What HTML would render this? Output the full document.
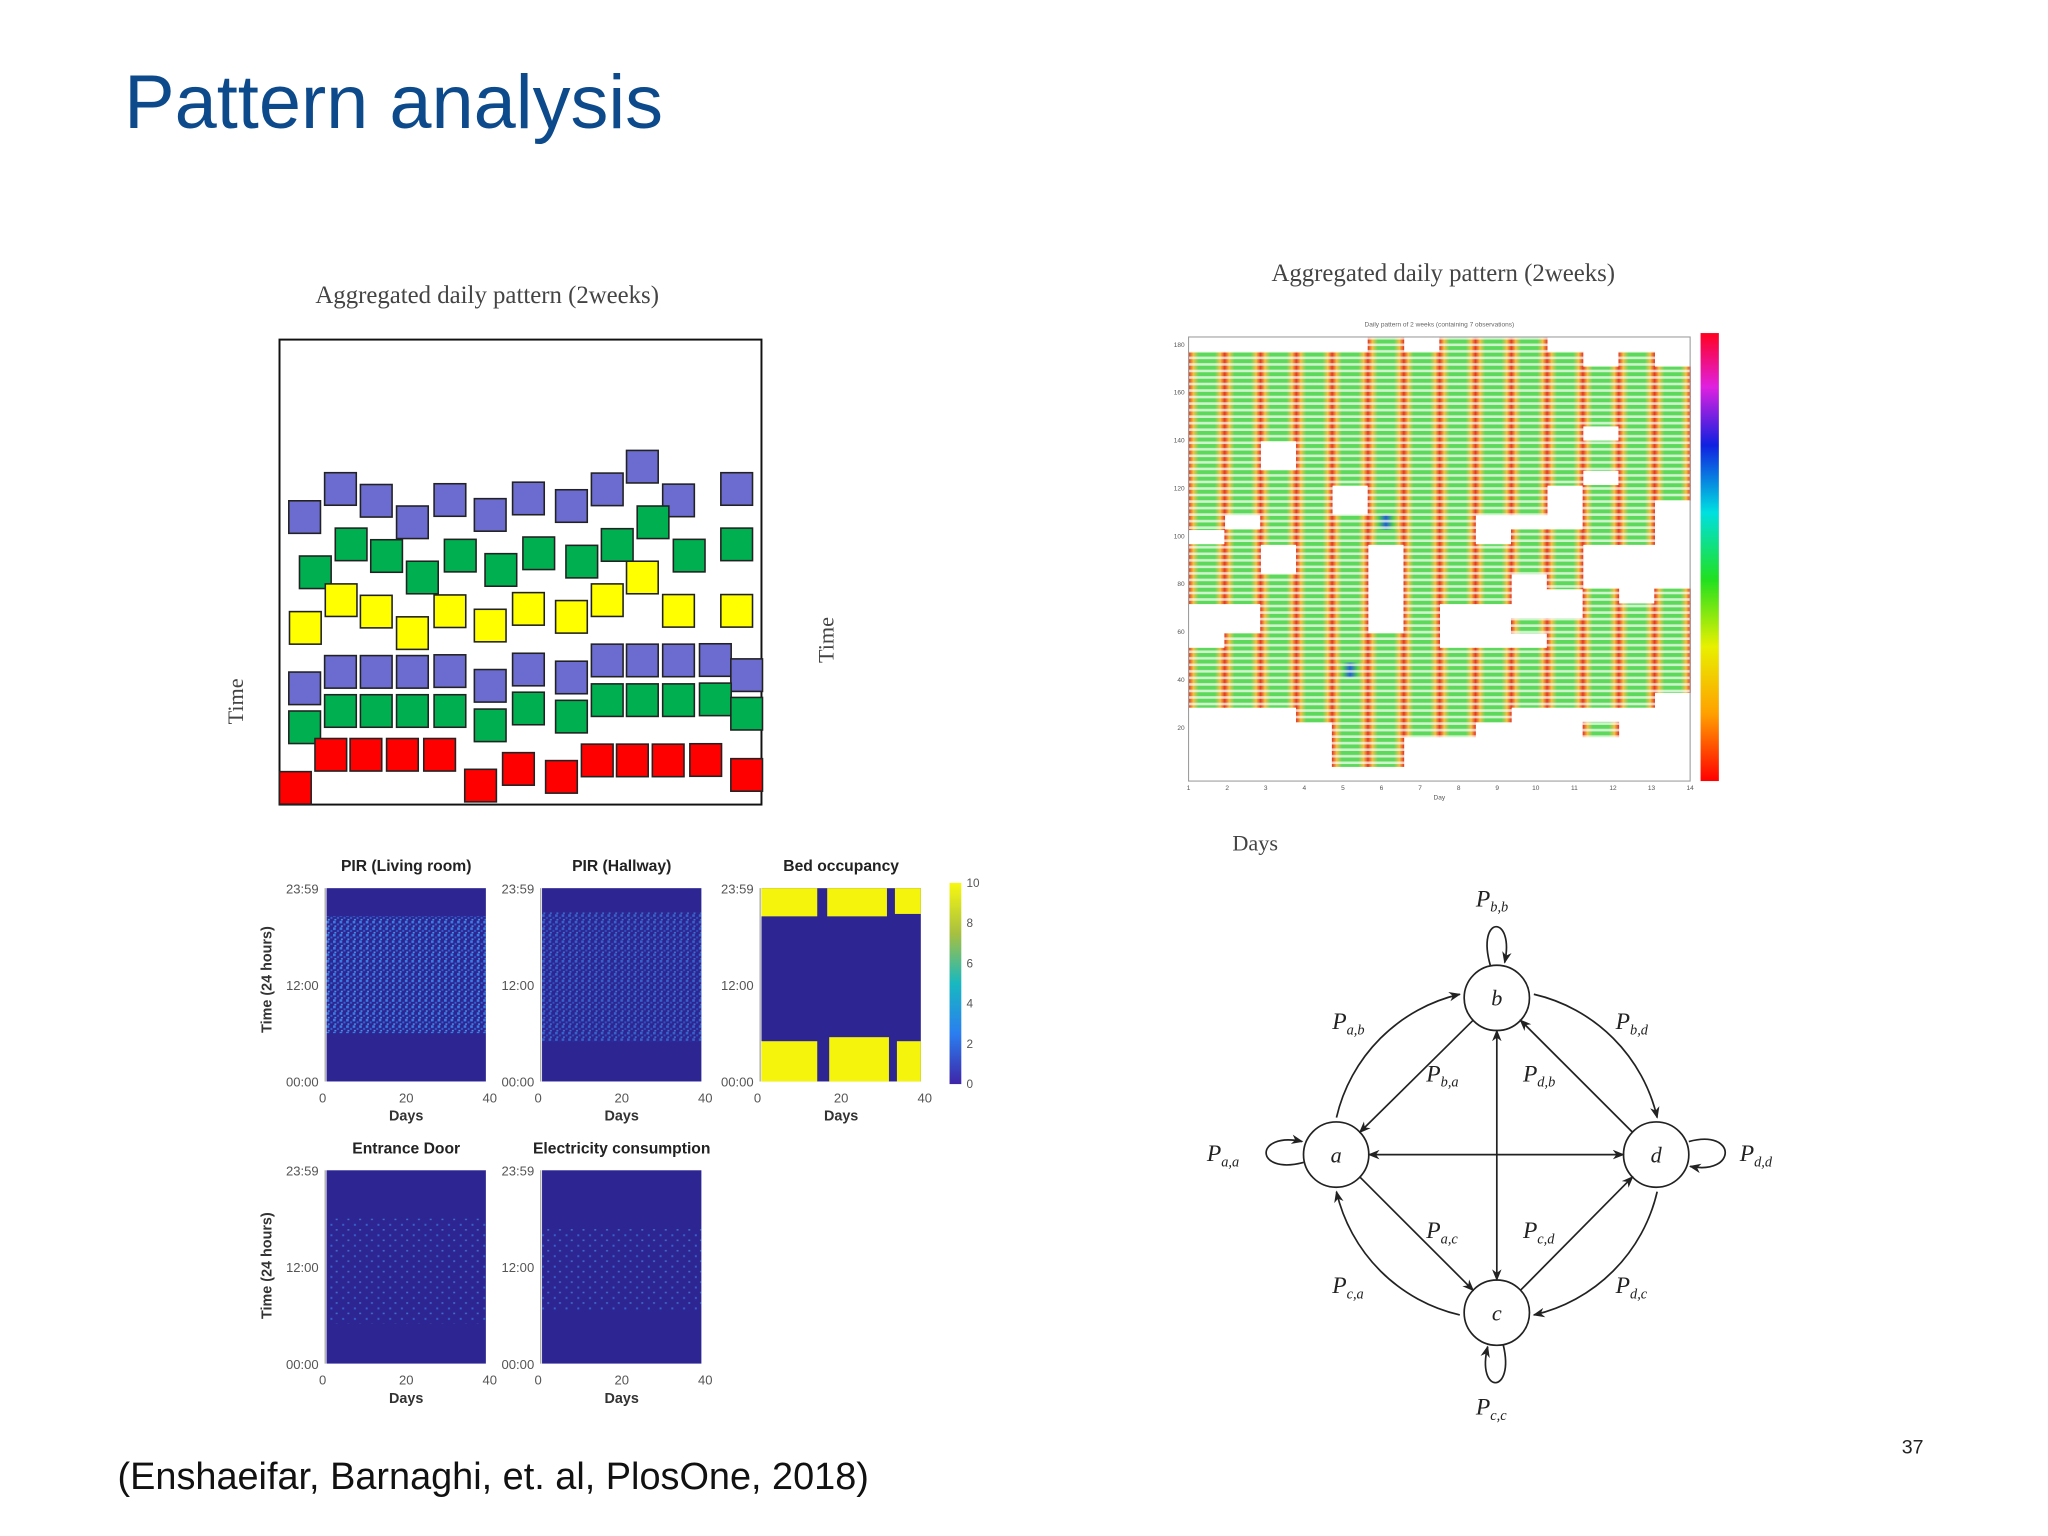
<!DOCTYPE html>
<html><head><meta charset="utf-8"><style>
html,body{margin:0;padding:0;background:#fff;}
svg{display:block;}
.serif{font-family:"Liberation Serif",serif;}
.sans{font-family:"Liberation Sans",sans-serif;}
</style></head><body>
<svg id="slide" width="2048" height="1536" viewBox="0 0 1568 1176" xmlns="http://www.w3.org/2000/svg">
<defs>
  <linearGradient id="dayGrad" x1="0" x2="1" y1="0" y2="0">
    <stop offset="0" stop-color="#e03020"/><stop offset="0.13" stop-color="#f4c040"/>
    <stop offset="0.28" stop-color="#5cd85a"/><stop offset="0.72" stop-color="#5cd85a"/>
    <stop offset="0.87" stop-color="#f4c040"/><stop offset="1" stop-color="#e03020"/>
  </linearGradient>
  <linearGradient id="dayGradBlue" x1="0" x2="1" y1="0" y2="0">
    <stop offset="0" stop-color="#e03020"/><stop offset="0.15" stop-color="#f4c040"/>
    <stop offset="0.3" stop-color="#4cd04a"/><stop offset="0.5" stop-color="#2060d0"/>
    <stop offset="0.7" stop-color="#4cd04a"/><stop offset="0.85" stop-color="#f4c040"/><stop offset="1" stop-color="#e03020"/>
  </linearGradient>
  <linearGradient id="jetBar" x1="0" x2="0" y1="1" y2="0">
    <stop offset="0" stop-color="#ff0000"/><stop offset="0.15" stop-color="#ffa000"/>
    <stop offset="0.3" stop-color="#e8f000"/><stop offset="0.45" stop-color="#20e020"/>
    <stop offset="0.6" stop-color="#00e0e0"/><stop offset="0.75" stop-color="#1020e0"/>
    <stop offset="0.88" stop-color="#e020e0"/><stop offset="1" stop-color="#ff0020"/>
  </linearGradient>
  <linearGradient id="parulaBar" x1="0" x2="0" y1="1" y2="0">
    <stop offset="0" stop-color="#3e26a8"/><stop offset="0.25" stop-color="#2a7ef0"/>
    <stop offset="0.5" stop-color="#18b8c0"/><stop offset="0.75" stop-color="#a8c040"/><stop offset="1" stop-color="#f8f810"/>
  </linearGradient>
  <pattern id="stripes" width="6" height="5" patternUnits="userSpaceOnUse">
    <rect x="0" y="3" width="6" height="2" fill="#fff" opacity="0.7"/>
  </pattern>
  <pattern id="speckle" width="5" height="5" patternUnits="userSpaceOnUse">
    <rect x="0" y="0" width="2" height="2" fill="#3a8cf0"/><rect x="3" y="2" width="1.5" height="1.5" fill="#2f70e0"/><rect x="1" y="3.5" width="1.5" height="1.2" fill="#4aa0f0"/>
  </pattern>
  <pattern id="speckleSparse" width="9" height="8" patternUnits="userSpaceOnUse">
    <rect x="1" y="1" width="1.5" height="1.5" fill="#3a8cf0"/><rect x="5" y="5" width="1.5" height="1.2" fill="#4aa0f0"/>
  </pattern>
  <marker id="arr" viewBox="0 0 10 10" refX="9" refY="5" markerWidth="7" markerHeight="7" orient="auto-start-reverse">
    <path d="M0,1 L10,5 L0,9 L3,5 Z" fill="#222"/>
  </marker>
</defs>

<text x="95" y="98" class="sans" font-size="58" fill="#0d4a8c">Pattern analysis</text>

<!-- Left squares chart -->
<text x="373" y="232" text-anchor="middle" class="serif" font-size="19" fill="#444">Aggregated daily pattern (2weeks)</text>
<text transform="translate(186,537) rotate(-90)" text-anchor="middle" class="serif" font-size="17" fill="#444">Time</text>
<rect x="214" y="260" width="369" height="356" fill="#fff" stroke="#111" stroke-width="1.5"/>
<g id="squares"></g>

<!-- Right heatmap -->
<text x="1105" y="215" text-anchor="middle" class="serif" font-size="19" fill="#444">Aggregated daily pattern (2weeks)</text>
<text transform="translate(638,490) rotate(-90)" text-anchor="middle" class="serif" font-size="17" fill="#444">Time</text>
<text x="961" y="651" text-anchor="middle" class="serif" font-size="17" fill="#444">Days</text>
<text x="1102" y="250" text-anchor="middle" class="sans" font-size="5" fill="#666">Daily pattern of 2 weeks (containing 7 observations)</text>
<g id="heatmap"></g>
<rect x="910" y="258" width="384" height="340" fill="none" stroke="#999" stroke-width="0.8"/>
<rect x="1302" y="255" width="14" height="343" fill="url(#jetBar)"/>
<g id="heatmapAxes"></g>

<!-- Bottom-left sensor panels -->
<g id="panels"></g>

<!-- Markov graph -->
<g id="graph" fill="none" stroke="#222" stroke-width="1.3"></g>

<text x="90" y="1140" class="sans" font-size="29" fill="#111">(Enshaeifar, Barnaghi, et. al, PlosOne, 2018)</text>
<text x="1456" y="1113" class="sans" font-size="15" fill="#222">37</text>
</svg>

<script>
// ---- Squares chart data (day position, hour value of square centre) ----
const purpleTopDays = [0.27,1.31,2.35,3.40,4.49,5.66,6.77,8.02,9.06,10.08,11.13,12.82];
const purpleTopVals = [14.84,16.29,15.68,14.57,15.72,14.95,15.80,15.41,16.27,17.44,15.70,16.29];
const greenTopDays = [0.58,1.62,2.65,3.69,4.79,5.97,7.07,8.32,9.35,10.39,11.44,12.82];
const greenTopVals = [11.99,13.43,12.83,11.72,12.85,12.11,12.97,12.54,13.40,14.57,12.85,13.43];
const yellowDays = [0.29,1.33,2.35,3.40,4.49,5.66,6.77,8.02,9.06,10.08,11.13,12.82];
const yellowVals = [9.12,10.55,9.96,8.85,9.98,9.24,10.10,9.69,10.55,11.72,10.00,10.00];
const purpleLowDays = [0.27,1.31,2.35,3.40,4.49,5.66,6.77,8.02,9.06,10.08,11.13,12.20,13.11];
const purpleLowVals = [6.00,6.85,6.85,6.85,6.89,6.13,6.97,6.56,7.44,7.44,7.44,7.46,6.68];
const greenLowDays = [0.27,1.31,2.35,3.40,4.49,5.66,6.77,8.02,9.06,10.08,11.13,12.20,13.11];
const greenLowVals = [3.99,4.83,4.83,4.83,4.83,4.09,4.96,4.54,5.39,5.39,5.39,5.43,4.69];
const redDays = [0,1.03,2.05,3.11,4.19,5.38,6.48,7.73,8.77,9.79,10.83,11.92,13.11];
const redVals = [0.86,2.57,2.57,2.57,2.57,0.98,1.84,1.43,2.28,2.28,2.28,2.30,1.53];

// ---- Right heatmap data: 14 days x 30 time rows (0 empty, 1 active, 2 active w/ blue core) ----
const heatDays = ["1","2","3","4","5","6","7","8","9","10","11","12","13","14"];
const heatRows = [
"00000101110000","11111111111010","11111111111111","11111111111111","11111111111111",
"11111111111111","11111111111011","11011111111111","11011111111111","11111111111011",
"11110111110111","11110111110110","10111211000110","01111111011110","11011011111000",
"11011011111000","11111011101000","11111011100101","00111010000111","00111010011111",
"01111110001111","11111111111111","11112111111111","11111111111111","11111111111110",
"00011111100000","00001111000100","00001100000000","00001100000000","00000000000000"];
const heatYTicks = ["180","160","140","120","100","80","60","40","20"];

// ---- Sensor panels data ----
const panelTitles = ["PIR (Living room)","PIR (Hallway)","Bed occupancy","Entrance Door","Electricity consumption"];
const panelYTicks = ["23:59","12:00","00:00"];
const panelXTicks = ["0","20","40"];
const colorbarTicks = ["0","2","4","6","8","10"];
const livingBand = [6, 20.5];
const hallwayBand = [5, 21];
const electricityBand = [6.5, 17];
const doorBand = [5, 18];
const bedBlocks = [[0,14,0,5],[17,32,0,5.5],[34,40,0,5],[0,14,20.5,24],[16.5,31.5,20.5,24],[33.5,40,20.8,24],[40,40,0,0]];

const NS = "http://www.w3.org/2000/svg";
function mk(tag, attrs, parent){ const e=document.createElementNS(NS,tag); for(const k in attrs) e.setAttribute(k,attrs[k]); parent.appendChild(e); return e; }

// Squares chart
(function(){
  const g=document.getElementById('squares');
  const X0=214,W=369,Y0=260,H=356;
  const xs=d=>X0+d*W/14, ys=v=>Y0+H-v*H/24;
  const sw=0.92*W/14, sh=1.68*H/24;
  const series=[[purpleTopDays,purpleTopVals,'#6b6bd0','purple-top'],[greenTopDays,greenTopVals,'#00b050','green-top'],
    [yellowDays,yellowVals,'#ffff00','yellow'],[purpleLowDays,purpleLowVals,'#6b6bd0','purple-low'],
    [greenLowDays,greenLowVals,'#00b050','green-low'],[redDays,redVals,'#ff0000','red']];
  series.forEach(s=>{
    s[0].forEach((d,i)=>{
      const r=mk('rect',{x:xs(d),y:ys(s[1][i])-sh/2,width:sw,height:sh,fill:s[2],stroke:'#222','stroke-width':1.2},g);
      
      
    });
  });
})();

// Right heatmap
(function(){
  const g=document.getElementById('heatmap');
  const X0=910,W=384,Y0=258,H=340;
  const cw=W/heatDays.length, ch=H/heatRows.length;
  heatRows.forEach((row,ri)=>{
    for(let ci=0;ci<row.length;ci++){
      const v=row[ci]; if(v==='0') continue;
      const r=mk('rect',{x:X0+ci*cw,y:Y0+ri*ch,width:cw+0.5,height:ch+0.5,fill:v==='2'?'url(#dayGradBlue)':'url(#dayGrad)'},g);
      
      
    }
  });
  mk('rect',{x:X0,y:Y0,width:W,height:H,fill:'url(#stripes)'},g);
  const a=document.getElementById('heatmapAxes');
  heatYTicks.forEach((t,i)=>{
    const y=Y0+6+i*(H-10)/(heatYTicks.length);
    const tx=mk('text',{x:X0-3,y:y+1.5,'font-size':5,'text-anchor':'end',fill:'#555','font-family':'Liberation Sans, sans-serif'},a);
    tx.textContent=t;
    
    
  });
  heatDays.forEach((t,i)=>{
    const x=X0+i*W/(heatDays.length-1);
    const tx=mk('text',{x:x,y:Y0+H+7,'font-size':5,'text-anchor':'middle',fill:'#555','font-family':'Liberation Sans, sans-serif'},a);
    tx.textContent=t;
    
    
  });
  const xl=mk('text',{x:X0+W/2,y:Y0+H+14,'font-size':5,'text-anchor':'middle',fill:'#555','font-family':'Liberation Sans, sans-serif'},a);
  xl.textContent='Day';
  
  
})();

// Sensor panels
(function(){
  const g=document.getElementById('panels');
  const boxes=[[250,680],[415,680],[583,680],[250,896],[415,896]];
  const PW=122, PH=148;
  boxes.forEach((b,i)=>{
    const [x0,y0]=b;
    const hy=h=>y0+PH-h*PH/24, dx=d=>x0+d*PW/40;
    const bg=mk('rect',{x:x0,y:y0,width:PW,height:PH,fill:'#2d2592'},g);
    
    
    let band=null, sparse=false;
    if(i===0) band=livingBand; if(i===1) band=hallwayBand; if(i===3){band=doorBand;sparse=true;} if(i===4){band=electricityBand;sparse=true;}
    if(band){
      const r=mk('rect',{x:x0,y:hy(band[1]),width:PW,height:hy(band[0])-hy(band[1]),fill:sparse?'url(#speckleSparse)':'url(#speckle)',opacity:i===0?0.85:0.6},g);
      
      
    }
    if(i===2){
      bedBlocks.forEach(bb=>{
        const r=mk('rect',{x:dx(bb[0]),y:hy(bb[3]),width:dx(bb[1])-dx(bb[0]),height:hy(bb[2])-hy(bb[3]),fill:'#f4f40c'},g);
        
        
      });
    }
    const t=mk('text',{x:x0+PW/2,y:y0-13,'font-size':12,'font-weight':'bold','text-anchor':'middle',fill:'#222','font-family':'Liberation Sans, sans-serif'},g);
    t.textContent=panelTitles[i];
    
    
    panelYTicks.forEach((tk,j)=>{
      const tt=mk('text',{x:x0-6,y:y0+4+j*PH/2,'font-size':10,'text-anchor':'end',fill:'#555','font-family':'Liberation Sans, sans-serif'},g);
      tt.textContent=tk;
      
      
    });
    panelXTicks.forEach((tk,j)=>{
      const tt=mk('text',{x:x0-3+j*(PW+6)/2,y:y0+PH+16,'font-size':10,'text-anchor':'middle',fill:'#555','font-family':'Liberation Sans, sans-serif'},g);
      tt.textContent=tk;
      
      
    });
    const xl=mk('text',{x:x0+PW/2,y:y0+PH+30,'font-size':11,'font-weight':'bold','text-anchor':'middle',fill:'#333','font-family':'Liberation Sans, sans-serif'},g);
    xl.textContent='Days';
    
    
    mk('line',{x1:x0-1,y1:y0,x2:x0-1,y2:y0+PH,stroke:'#aaa','stroke-width':1},g);
  });
  [[750],[969]].forEach(c=>{
    const yl=mk('text',{transform:'translate(208,'+c[0]+') rotate(-90)','font-size':11,'font-weight':'bold','text-anchor':'middle',fill:'#333','font-family':'Liberation Sans, sans-serif'},g);
    yl.textContent='Time (24 hours)';
    
    
  });
  const cb=mk('rect',{x:727,y:676,width:9,height:154,fill:'url(#parulaBar)'},g);
  
  
  colorbarTicks.forEach((tk,j)=>{
    const tt=mk('text',{x:740,y:830+3-j*154/5,'font-size':9,fill:'#555','font-family':'Liberation Sans, sans-serif'},g);
    tt.textContent=tk;
    
    
  });
})();

// Markov graph
(function(){
  const g=document.getElementById('graph');
  const nodes={a:[1023,884],b:[1146,764],c:[1146,1005],d:[1268,884]};
  const R=25;
  function p(d,attrs){const e=mk('path',Object.assign({d:d,'marker-end':'url(#arr)'},attrs||{}),g);return e;}
  Object.keys(nodes).forEach(k=>{
    const c=mk('circle',{cx:nodes[k][0],cy:nodes[k][1],r:R,fill:'#fff'},g);
    
    
    const t=mk('text',{x:nodes[k][0],y:nodes[k][1]+6,'font-size':17,'font-style':'italic','text-anchor':'middle',fill:'#222',stroke:'none','font-family':'Liberation Serif, serif'},g);
    t.textContent=k;
    
    
  });
  const C=[1146,884], BR=126;
  const pt=deg=>[C[0]+BR*Math.cos(deg*Math.PI/180), C[1]+BR*Math.sin(deg*Math.PI/180)];
  [[193,257],[283,347],[13,77],[103,167]].forEach(a=>{
    const s=pt(a[0]), e=pt(a[1]);
    p('M'+s[0]+','+s[1]+' A'+BR+','+BR+' 0 0 1 '+e[0]+','+e[1]);
  });
  p('M1128,781 L1041,867'); p('M1250,867 L1164,781'); p('M1041,901 L1128,988'); p('M1164,988 L1250,901');
  p('M1048,884 L1243,884',{'marker-start':'url(#arr)'});
  p('M1146,789 L1146,980',{'marker-start':'url(#arr)'});
  p('M1141,739 C1130,700 1160,700 1152,737');
  p('M1151,1030 C1160,1068 1130,1068 1139,1031');
  p('M998,890 C960,900 960,866 997,874');
  p('M1293,874 C1330,864 1330,900 1294,893');
  const labels=[["a,a",924,889],["b,b",1130,694],["c,c",1130,1083],["d,d",1332,889],["a,b",1020,788],["b,d",1237,788],
    ["b,a",1092,828],["d,b",1166,828],["a,c",1092,948],["c,d",1166,948],["c,a",1020,990],["d,c",1237,990]];
  labels.forEach(l=>{
    const t=mk('text',{x:l[1],y:l[2],'font-size':18,'font-style':'italic',fill:'#222',stroke:'none','font-family':'Liberation Serif, serif'},g);
    t.textContent='P';
    const s=mk('tspan',{'font-size':11,dy:4},t);
    s.textContent=l[0];
    
    
  });
})();
</script>
</body></html>
